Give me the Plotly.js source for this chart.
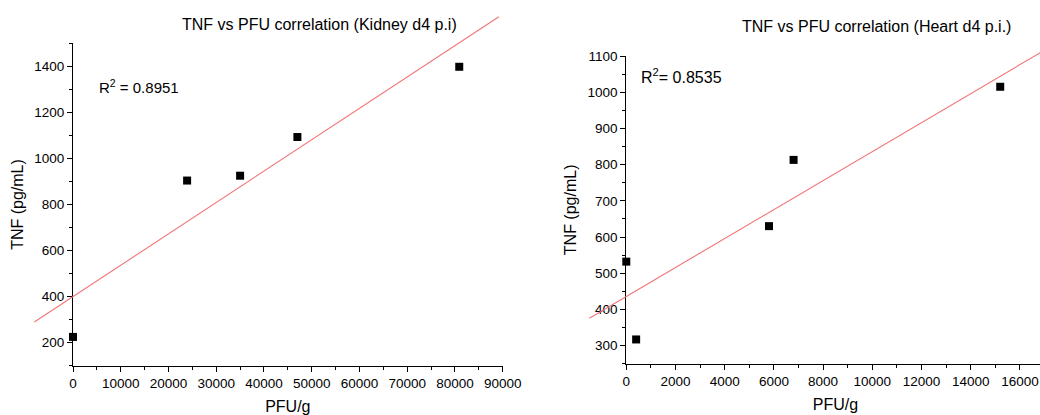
<!DOCTYPE html>
<html>
<head>
<meta charset="utf-8">
<script src="https://cdn.plot.ly/plotly-3.0.1.min.js"></script>
<style>
html,body{margin:0;padding:0;background:#fff;overflow:hidden;width:1040px;height:415px;}
#chart{width:1100px;height:415px;}
</style>
</head>
<body>
<div id="chart"></div>
<script>
// ---- Data ----
const kidneyPFU = [0, 23900, 35000, 47000, 80900];
const kidneyTNF = [225, 904, 925, 1093, 1398];
const heartPFU = [0, 400, 5800, 6800, 15200];
const heartTNF = [532, 317, 630, 813, 1015];
const kidneyFitExtent = [-8100, 89200];
const heartFitExtent = [-1500, 17500];
const kidneyR2 = '0.8951';
const heartR2 = '0.8535';
const titles = ['TNF vs PFU correlation (Kidney d4 p.i)', 'TNF vs PFU correlation (Heart d4 p.i.)'];
const xTitle = 'PFU/g';
const yTitle = 'TNF (pg/mL)';

// ---- Figure geometry ----
const W = 1100, H = 415;
const FONT = '"Liberation Sans", Arial, Helvetica, sans-serif';

function linfit(xs, ys) {
  const n = xs.length;
  const mx = xs.reduce((a, b) => a + b, 0) / n;
  const my = ys.reduce((a, b) => a + b, 0) / n;
  let sxy = 0, sxx = 0;
  for (let i = 0; i < n; i++) { sxy += (xs[i] - mx) * (ys[i] - my); sxx += (xs[i] - mx) ** 2; }
  const m = sxy / sxx;
  return { m: m, b: my - m * mx };
}

// domains (paper fractions)
const L = { x: [73 / W, 502.7 / W], y: [1 - 365.7 / H, 1 - 43.3 / H], xr: [0, 90000], yr: [100, 1500] };
const R = { x: [626.3 / W, 1044.5 / W], y: [1 - 363.7 / H, 1 - 56 / H], xr: [0, 17000], yr: [250, 1100] };

// range of a full-paper overlay axis that keeps the same scale as the main axis
function fullRange(dom, rng) {
  const k = (rng[1] - rng[0]) / (dom[1] - dom[0]);
  return [rng[0] - dom[0] * k, rng[1] + (1 - dom[1]) * k];
}

const kf = linfit(kidneyPFU, kidneyTNF);
const hf = linfit(heartPFU, heartTNF);

const lineColor = '#f27474';
const traces = [
  { x: kidneyFitExtent, y: kidneyFitExtent.map(v => kf.m * v + kf.b), xaxis: 'x3', yaxis: 'y3',
    mode: 'lines', line: { color: lineColor, width: 1.1 }, hoverinfo: 'skip' },
  { x: heartFitExtent, y: heartFitExtent.map(v => hf.m * v + hf.b), xaxis: 'x4', yaxis: 'y4',
    mode: 'lines', line: { color: lineColor, width: 1.1 }, hoverinfo: 'skip' },
  { x: kidneyPFU, y: kidneyTNF, xaxis: 'x', yaxis: 'y', mode: 'markers', cliponaxis: false,
    marker: { symbol: 'square', size: 8, color: '#000' } },
  { x: heartPFU, y: heartTNF, xaxis: 'x2', yaxis: 'y2', mode: 'markers', cliponaxis: false,
    marker: { symbol: 'square', size: 8, color: '#000' } }
];

const axCol = '#000';
function baseAxis(extra) {
  return Object.assign({
    showline: true, linecolor: axCol, linewidth: 1, showgrid: false, zeroline: false,
    ticks: 'outside', ticklen: 5, tickwidth: 1, tickcolor: axCol,
    tickformat: 'd', separatethousands: false,
    tickfont: { family: FONT, size: 13.5, color: '#000' },
    fixedrange: true
  }, extra);
}
function hiddenAxis(dom, rng) {
  return { domain: [0, 1], range: fullRange(dom, rng), visible: false, showgrid: false, zeroline: false, fixedrange: true };
}

const titleFont = { family: FONT, size: 16, color: '#000' };
const minorTicks = (d) => ({ dtick: d, ticks: 'outside', ticklen: 3, tickcolor: axCol, tickwidth: 1 });

const layout = {
  width: W, height: H,
  margin: { l: 0, r: 0, t: 0, b: 0, pad: 0 },
  paper_bgcolor: '#fff', plot_bgcolor: 'rgba(0,0,0,0)',
  showlegend: false,
  xaxis: baseAxis({ domain: L.x, range: L.xr, anchor: 'y', tick0: 0, dtick: 10000,
    minor: minorTicks(5000),
    title: { text: xTitle, font: titleFont, standoff: 14 } }),
  yaxis: baseAxis({ domain: L.y, range: L.yr, anchor: 'x', tick0: 0, dtick: 200,
    minor: minorTicks(100),
    title: { text: yTitle, font: titleFont, standoff: 6 } }),
  xaxis2: baseAxis({ domain: R.x, range: R.xr, anchor: 'y2', tick0: 0, dtick: 2000,
    minor: minorTicks(1000),
    title: { text: xTitle, font: titleFont, standoff: 10 } }),
  yaxis2: baseAxis({ domain: R.y, range: R.yr, anchor: 'x2', tick0: 0, dtick: 100,
    minor: minorTicks(50),
    title: { text: yTitle, font: titleFont, standoff: 6 } }),
  xaxis3: Object.assign(hiddenAxis(L.x, L.xr), { anchor: 'y3' }),
  yaxis3: Object.assign(hiddenAxis(L.y, L.yr), { anchor: 'x3' }),
  xaxis4: Object.assign(hiddenAxis(R.x, R.xr), { anchor: 'y4' }),
  yaxis4: Object.assign(hiddenAxis(R.y, R.yr), { anchor: 'x4' }),
  annotations: [
    { text: titles[0], xref: 'paper', yref: 'paper', x: 319 / W, y: 1 - 24 / H, xanchor: 'center', yanchor: 'middle',
      showarrow: false, font: titleFont },
    { text: titles[1], xref: 'paper', yref: 'paper', x: 876.7 / W, y: 1 - 26.7 / H, xanchor: 'center', yanchor: 'middle',
      showarrow: false, font: titleFont },
    { text: 'R<sup>2</sup> = ' + kidneyR2, xref: 'x', yref: 'y', x: 5000, y: 1314, xanchor: 'left', yanchor: 'middle',
      showarrow: false, font: { family: FONT, size: 15, color: '#000' } },
    { text: 'R<sup>2</sup>= ' + heartR2, xref: 'x2', yref: 'y2', x: 516, y: 1044, xanchor: 'left', yanchor: 'middle',
      showarrow: false, font: { family: FONT, size: 16, color: '#000' } }
  ]
};

Plotly.newPlot('chart', traces, layout, { staticPlot: true, displayModeBar: false });
</script>
</body>
</html>
